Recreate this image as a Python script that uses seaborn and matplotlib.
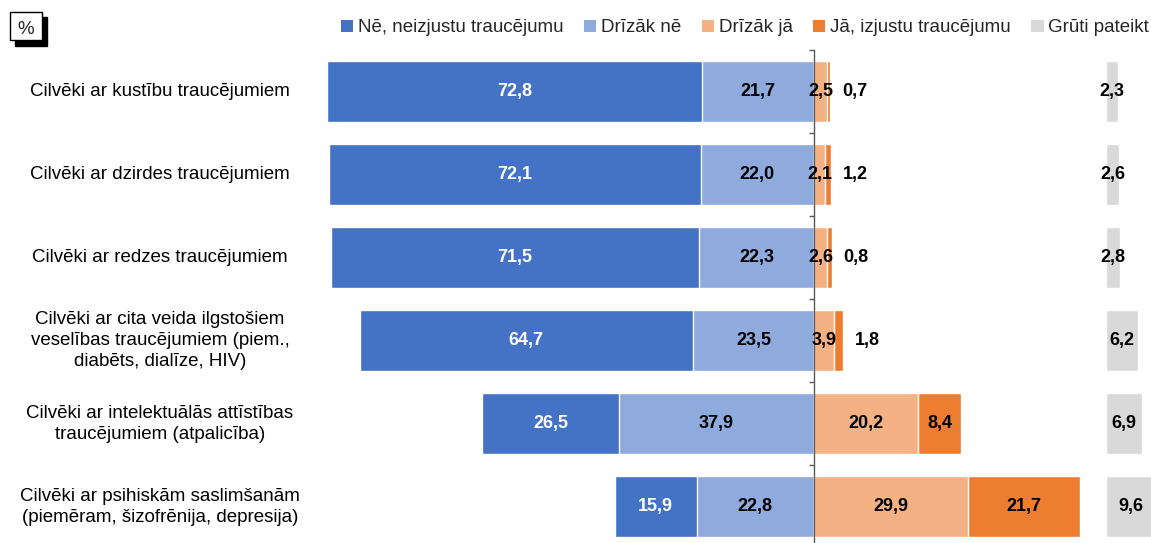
import matplotlib
matplotlib.use('Agg')
import matplotlib.pyplot as plt
import matplotlib.transforms as mtransforms
from matplotlib.patches import Patch, Rectangle
import seaborn as sns
import numpy as np

# Dati (%)
categories = [
    'Cilvēki ar kustību traucējumiem',
    'Cilvēki ar dzirdes traucējumiem',
    'Cilvēki ar redzes traucējumiem',
    'Cilvēki ar cita veida ilgstošiem\nveselības traucējumiem (piem.,\ndiabēts, dialīze, HIV)',
    'Cilvēki ar intelektuālās attīstības\ntraucējumiem (atpalicība)',
    'Cilvēki ar psihiskām saslimšanām\n(piemēram, šizofrēnija, depresija)',
]
ne = [72.8, 72.1, 71.5, 64.7, 26.5, 15.9]
drizak_ne = [21.7, 22.0, 22.3, 23.5, 37.9, 22.8]
drizak_ja = [2.5, 2.1, 2.6, 3.9, 20.2, 29.9]
ja = [0.7, 1.2, 0.8, 1.8, 8.4, 21.7]
gruti = [2.3, 2.6, 2.8, 6.2, 6.9, 9.6]

series_names = ['Nē, neizjustu traucējumu', 'Drīzāk nē', 'Drīzāk jā',
                'Jā, izjustu traucējumu', 'Grūti pateikt']
colors = ['#4472C4', '#8FAADC', '#F4B183', '#ED7D31', '#D9D9D9']

sns.set_theme(style='white')
plt.rcParams['font.family'] = ['Liberation Sans', 'DejaVu Sans']

W, H = 1151, 543
fig = plt.figure(figsize=(W / 100, H / 100), dpi=100)

S = 5.153          # pikseļi uz 1 %
x0 = 814           # nulles līnija
top_px, bot_px = 50, 548.5
ax_b = (H - bot_px) / H
ax_h = (bot_px - top_px) / H

ax = fig.add_axes([320 / W, ax_b, (1100 - 320) / W, ax_h])
ax2 = fig.add_axes([1106 / W, ax_b, (W - 1106) / W, ax_h], sharey=ax)

ne_arr = np.array(ne)
dn_arr = np.array(drizak_ne)
dj_arr = np.array(drizak_ja)
ja_arr = np.array(ja)
bw = 0.735

sns.barplot(x=-(ne_arr + dn_arr), y=categories, color=colors[0], width=bw,
            saturation=1, errorbar=None, ax=ax)
sns.barplot(x=-dn_arr, y=categories, color=colors[1], width=bw,
            saturation=1, errorbar=None, ax=ax)
sns.barplot(x=dj_arr + ja_arr, y=categories, color=colors[3], width=bw,
            saturation=1, errorbar=None, ax=ax)
sns.barplot(x=dj_arr, y=categories, color=colors[2], width=bw,
            saturation=1, errorbar=None, ax=ax)
sns.barplot(x=gruti, y=categories, color=colors[4], width=bw,
            saturation=1, errorbar=None, ax=ax2)

ax.set_xlim((320 - x0) / S, (1100 - x0) / S)
ax2.set_xlim(0, (W - 1106) / S)
ax.set_ylim(5.5, -0.5)

def fmt(v):
    return f'{v:.1f}'.replace('.', ',')

lab_kw = dict(fontsize=13, fontweight='bold', va='center')
for i in range(len(categories)):
    ax.text(-(dn_arr[i] + ne_arr[i] / 2), i, fmt(ne[i]), color='white', ha='center', **lab_kw)
    ax.text(-dn_arr[i] / 2, i, fmt(drizak_ne[i]), color='black', ha='center', **lab_kw)
    ax.text(dj_arr[i] / 2, i, fmt(drizak_ja[i]), color='black', ha='center', **lab_kw)
    if ja[i] < 3:
        ax.text(dj_arr[i] + ja_arr[i] + 12 / S, i, fmt(ja[i]), color='black', ha='left', **lab_kw)
    else:
        ax.text(dj_arr[i] + ja_arr[i] / 2, i, fmt(ja[i]), color='black', ha='center', **lab_kw)
    ax2.text(gruti[i] / 2, i, fmt(gruti[i]), color='black', ha='center', **lab_kw)

# kategoriju nosaukumi
trans = mtransforms.blended_transform_factory(fig.transFigure, ax.transData)
for i, c in enumerate(categories):
    ax.text(160 / W, i, c, transform=trans, ha='center', va='center',
            multialignment='center', fontsize=13.5, linespacing=1.3, color='black')

# ass
for s in ['top', 'right', 'bottom']:
    ax.spines[s].set_visible(False)
ax.spines['left'].set_position(('data', 0))
ax.spines['left'].set_color('#595959')
ax.spines['left'].set_linewidth(1.0)
ax.set_yticks(np.arange(-0.5, 6.0, 1.0))
ax.set_yticklabels([])
ax.tick_params(axis='y', direction='out', length=3.5, width=1.0, color='#595959', left=True)
ax.set_xticks([])
ax.set_xlabel('')
ax.set_ylabel('')
ax.set_ylim(5.5, -0.5)
ax.patch.set_alpha(0)

for s in ax2.spines.values():
    s.set_visible(False)
ax2.set_xticks([])
ax2.tick_params(axis='y', left=False, labelleft=False)
ax2.set_xlabel('')
ax2.set_ylabel('')
ax2.patch.set_alpha(0)

# leģenda
handles = [Patch(facecolor=c, edgecolor='none') for c in colors]
fig.legend(handles, series_names, loc='center right', bbox_to_anchor=(1149 / W, 1 - 28 / H),
           ncol=5, frameon=False, fontsize=13.5, handlelength=0.65, handleheight=0.65,
           handletextpad=0.25, columnspacing=1.1, borderaxespad=0, borderpad=0)

# % lodziņš ar ēnu
fig.patches.append(Rectangle((15 / W, 1 - 46 / H), 32 / W, 29 / H, transform=fig.transFigure,
                             facecolor='black', edgecolor='black', zorder=5))
fig.patches.append(Rectangle((10 / W, 1 - 40 / H), 32 / W, 28 / H, transform=fig.transFigure,
                             facecolor='white', edgecolor='black', linewidth=1, zorder=6))
fig.text(26 / W, 1 - 27 / H, '%', ha='center', va='center_baseline', fontsize=13.5, zorder=7)

fig.savefig('out.png', dpi=100)
